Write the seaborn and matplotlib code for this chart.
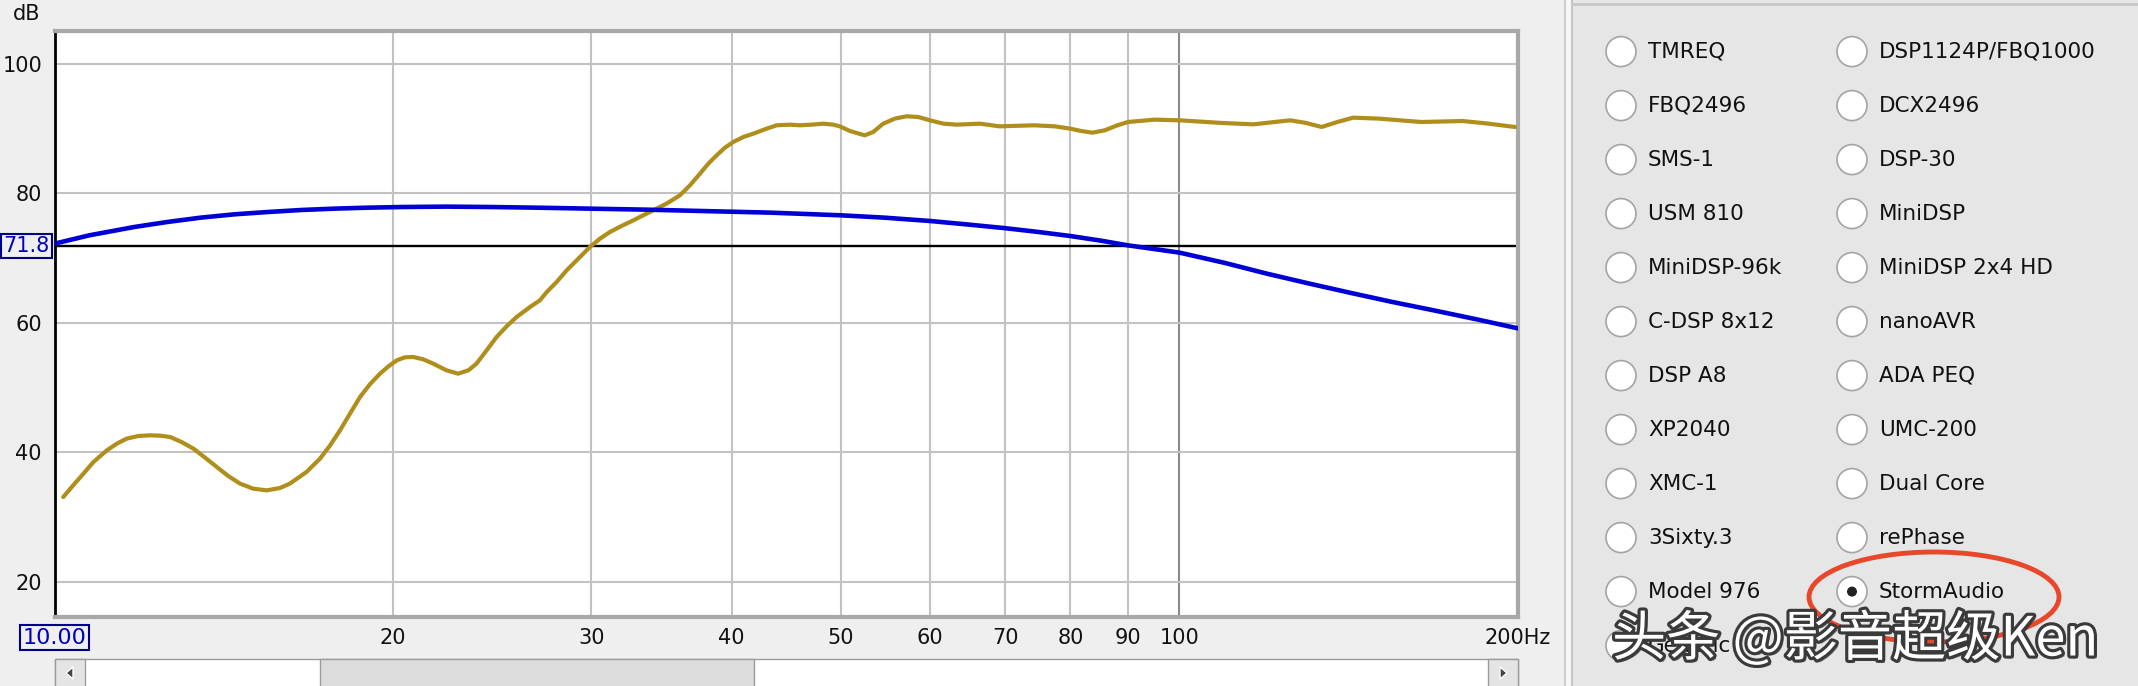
import matplotlib
matplotlib.use('Agg')
import matplotlib.pyplot as plt
import matplotlib.patches as mpatches
import matplotlib.patheffects as pe
import matplotlib.transforms as mtransforms
from matplotlib.ticker import NullLocator
import seaborn as sns
import pandas as pd

gold_freq = [10.18, 10.39, 10.61, 10.83, 11.13, 11.36, 11.59, 11.87, 12.16, 12.41,
             12.67, 12.97, 13.29, 13.61, 13.94, 14.27, 14.62, 15.02, 15.44, 15.86,
             16.19, 16.75, 17.22, 17.58, 17.94, 18.31, 18.69, 19.07, 19.47, 19.81,
             20.15, 20.49, 20.84, 21.27, 21.71, 22.31, 22.85, 23.33, 23.72, 24.22,
             24.72, 25.23, 25.75, 26.47, 27.01, 27.39, 27.95, 28.53, 29.22, 29.92,
             30.54, 31.17, 31.92, 32.70, 33.37, 34.06, 35.0, 35.97, 36.72, 37.48,
             38.13, 38.78, 39.45, 40.13, 40.96, 41.81, 42.96, 43.85, 45.06, 45.99,
             47.1, 48.25, 49.24, 49.9, 50.94, 52.52, 53.43, 54.54, 55.85, 57.2,
             58.6, 60.0, 61.7, 63.4, 66.5, 69.2, 74.3, 77.5, 80.0, 81.8,
             83.7, 85.8, 88.1, 90.0, 95.0, 100.0, 109.1, 116.4, 121.5, 125.5,
             129.6, 133.8, 138.2, 142.7, 150.5, 164.0, 178.6, 188.4, 198.8]
gold_db = [33.05, 34.86, 36.66, 38.46, 40.26, 41.29, 42.06, 42.48, 42.58, 42.53,
           42.32, 41.55, 40.52, 39.13, 37.69, 36.30, 35.12, 34.34, 34.08, 34.44,
           35.12, 36.92, 38.98, 41.03, 43.35, 45.93, 48.50, 50.46, 52.10, 53.24,
           54.16, 54.63, 54.68, 54.32, 53.65, 52.62, 52.10, 52.62, 53.65, 55.71,
           57.77, 59.41, 60.85, 62.40, 63.43, 64.71, 66.26, 68.06, 69.86, 71.67,
           72.95, 73.98, 74.91, 75.78, 76.56, 77.33, 78.36, 79.64, 81.19, 82.99,
           84.54, 85.82, 87.01, 87.88, 88.65, 89.17, 89.94, 90.46, 90.56, 90.46,
           90.56, 90.71, 90.56, 90.30, 89.58, 88.91, 89.43, 90.71, 91.49, 91.85,
           91.74, 91.23, 90.71, 90.56, 90.71, 90.30, 90.46, 90.30, 89.94, 89.58,
           89.32, 89.68, 90.46, 90.97, 91.33, 91.23, 90.82, 90.61, 90.97, 91.23,
           90.82, 90.20, 90.97, 91.64, 91.49, 90.97, 91.12, 90.71, 90.20]

# target curve (blue)
blue_freq = [10.0, 10.74, 11.77, 12.60, 13.49, 14.45, 15.48, 16.57, 17.75, 19.01,
             20.36, 22.30, 24.44, 26.77, 29.88, 33.65, 37.48, 43.3, 50.0, 54.65,
             60.04, 64.55, 69.75, 74.56, 80.0, 85.2, 90.0, 100.0, 109.8, 119.6,
             130.2, 141.8, 154.4, 168.1, 183.1, 200.0]
blue_db = [72.18, 73.47, 74.75, 75.53, 76.20, 76.71, 77.07, 77.38, 77.59, 77.74,
           77.84, 77.90, 77.84, 77.74, 77.59, 77.43, 77.23, 76.97, 76.56, 76.20,
           75.68, 75.17, 74.60, 74.03, 73.36, 72.64, 71.92, 70.8, 69.2, 67.55,
           66.05, 64.6, 63.2, 61.9, 60.55, 59.1]

level_db = 71.8
y_ticks = [20, 40, 60, 80, 100]
x_ticks = [10, 20, 30, 40, 50, 60, 70, 80, 90, 100, 200]
x_labels = ['10.00', '20', '30', '40', '50', '60', '70', '80', '90', '100', '200Hz']

left_col = ['TMREQ', 'FBQ2496', 'SMS-1', 'USM 810', 'MiniDSP-96k', 'C-DSP 8x12',
            'DSP A8', 'XP2040', 'XMC-1', '3Sixty.3', 'Model 976', 'Generic']
right_col = ['DSP1124P/FBQ1000', 'DCX2496', 'DSP-30', 'MiniDSP', 'MiniDSP 2x4 HD',
             'nanoAVR', 'ADA PEQ', 'UMC-200', 'Dual Core', 'rePhase', 'StormAudio']
selected = 'StormAudio'
watermark = '头条 @影音超级Ken'

sns.set_style('white')
plt.rcParams['font.family'] = ['DejaVu Sans']

W, H = 2138, 686
fig = plt.figure(figsize=(W / 100, H / 100), dpi=100, facecolor='#efefef')

# background layer in pixel coordinates (window chrome, radio panel)
bg = fig.add_axes([0, 0, 1, 1], zorder=0)
bg.set_xlim(0, W)
bg.set_ylim(H, 0)
bg.axis('off')

bg.add_patch(mpatches.Rectangle((1572, 0), W - 1572, H, fc='#e6e6e6', ec='none'))
bg.add_patch(mpatches.Rectangle((1565, 0), 7, H, fc='#f7f7f7', ec='none'))
bg.plot([1565, 1565], [0, H], color='#c6c6c6', lw=1.2)
bg.plot([1572, 1572], [0, H], color='#bdbdbd', lw=1.2)
bg.plot([1572, W], [4, 4], color='#c8c8c8', lw=2)

# scrollbar under the plot
bg.add_patch(mpatches.Rectangle((54.5, 659), 1463.5, 30, fc='white', ec='#9c9c9c', lw=1))
bg.add_patch(mpatches.Rectangle((320, 659), 434, 30, fc='#dcdcdc', ec='#9c9c9c', lw=1))
bg.add_patch(mpatches.Rectangle((54.5, 659), 30, 30, fc='#e4e4e4', ec='#9c9c9c', lw=1))
bg.add_patch(mpatches.Rectangle((1488, 659), 30, 30, fc='#e4e4e4', ec='#9c9c9c', lw=1))
bg.add_patch(mpatches.Polygon([(66, 673), (73, 667), (73, 679)], fc='#444444'))
bg.add_patch(mpatches.Polygon([(1507, 673), (1500, 667), (1500, 679)], fc='#444444'))

bg.text(27, 14, 'dB', fontsize=15, ha='center', va='center', color='#111111')

# radio buttons
for col_x, names in [(1621, left_col), (1852, right_col)]:
    for i, name in enumerate(names):
        cy = 51.6 + 54.0 * i
        bg.add_patch(mpatches.Circle((col_x, cy), 15, fc='white', ec='#a4a4a4', lw=1.2))
        if name == selected:
            bg.add_patch(mpatches.Circle((col_x, cy), 5, fc='#222222', ec='none'))
        bg.text(col_x + 27, cy, name, fontsize=15.5, ha='left', va='center', color='#111111')

bg.add_patch(mpatches.Ellipse((1934, 597), 250, 90, fill=False, ec='#e8472a', lw=3.5))

# watermark sits over the last radio row, as in the screenshot
bg.text(1612, 640, watermark, fontsize=39, ha='left', va='center', color='white',
        family=['Noto Sans CJK SC', 'DejaVu Sans'], zorder=10,
        path_effects=[pe.withSimplePatchShadow(offset=(2, -2), shadow_rgbFace='#222222', alpha=0.6),
                      pe.withStroke(linewidth=4.5, foreground='#3a3a3a')])

# the graph itself
ax = fig.add_axes([54.5 / W, 1 - 616.5 / H, (1518 - 54.5) / W, (616.5 - 30.5) / H], zorder=2)
ax.set_facecolor('white')

gold = pd.DataFrame({'freq': gold_freq, 'db': gold_db})
blue = pd.DataFrame({'freq': blue_freq, 'db': blue_db})
sns.lineplot(data=gold, x='freq', y='db', ax=ax, color='#b08e1c', linewidth=3.0,
             zorder=3, solid_joinstyle='round', solid_capstyle='round')
sns.lineplot(data=blue, x='freq', y='db', ax=ax, color='#0000d6', linewidth=3.3,
             zorder=4, solid_joinstyle='round', solid_capstyle='round')

ax.set_xscale('log')
ax.set_xlim(10, 200)
ax.set_ylim(14.6, 105.1)
ax.xaxis.set_minor_locator(NullLocator())
ax.grid(False)

for f in x_ticks[1:-1]:
    ax.axvline(f, color='#8a8a8a' if f == 100 else '#c2c2c2', lw=1.5, zorder=1)
for y in y_ticks:
    ax.axhline(y, color='#c2c2c2', lw=1.5, zorder=1)
ax.axhline(level_db, color='black', lw=1.7, zorder=2)

ax.set_xticks(x_ticks, x_labels)
ax.set_yticks(y_ticks, [str(v) for v in y_ticks])
ax.tick_params(axis='both', length=0, labelsize=15, colors='#111111')
ax.tick_params(axis='x', pad=8)
ax.tick_params(axis='y', pad=9)
ax.set_xlabel('')
ax.set_ylabel('')

box = dict(boxstyle='square,pad=0.12', fc='none', ec='#00008a', lw=1.5)
first = ax.get_xticklabels()[0]
first.set_color('#0000c0')
first.set_fontsize(16)
first.set_bbox(box)

# boxed level marker on the y axis
lvl_tr = mtransforms.offset_copy(ax.get_yaxis_transform(), fig=fig, x=-5, y=0, units='dots')
ax.text(0, level_db, str(level_db), transform=lvl_tr, ha='right', va='center',
        fontsize=15, color='#0000c0', clip_on=False,
        bbox=dict(boxstyle='square,pad=0.1', fc='none', ec='#00008a', lw=1.5))

for side in ['top', 'right', 'bottom']:
    ax.spines[side].set_color('#a8a8a8')
    ax.spines[side].set_linewidth(3)
ax.spines['left'].set_color('black')
ax.spines['left'].set_linewidth(2)

fig.savefig('out.png', dpi=100, facecolor=fig.get_facecolor())
